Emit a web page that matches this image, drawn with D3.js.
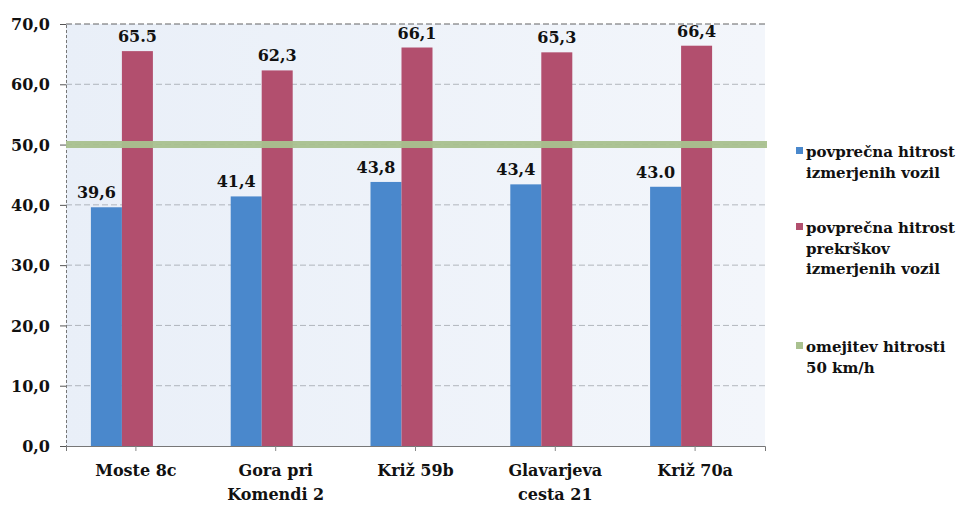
<!DOCTYPE html>
<html><head><meta charset="utf-8">
<script src="https://cdn.jsdelivr.net/npm/d3@7"></script>
<style>body{margin:0;background:#fff}svg{display:block}</style>
</head><body><div id="chart"></div>
<script>
const categories = [["Moste 8c"], ["Gora pri", "Komendi 2"], ["Križ 59b"], ["Glavarjeva", "cesta 21"], ["Križ 70a"]];
const seriesNames = ["povprečna hitrost izmerjenih vozil", "povprečna hitrost prekrškov izmerjenih vozil"];
const avgSpeed = [39.6, 41.4, 43.8, 43.4, 43.0];
const avgViolation = [65.5, 62.3, 66.1, 65.3, 66.4];
const avgSpeedLabels = ["39,6", "41,4", "43,8", "43,4", "43.0"];
const avgViolationLabels = ["65.5", "62,3", "66,1", "65,3", "66,4"];
const speedLimit = 50;
const yTicks = [0, 10, 20, 30, 40, 50, 60, 70];
const legendEntries = [["povprečna hitrost", "izmerjenih vozil"], ["povprečna hitrost", "prekrškov", "izmerjenih vozil"], ["omejitev hitrosti", "50 km/h"]];
const colors = ["#4a88cc", "#b24f6e", "#a9c18f"];

const FONT = "'DejaVu Serif', serif";
const W = 967, H = 506;
const mLeft = 66, mRight = 765, mTop = 24, mBottom = 446;
const svg = d3.select("#chart").append("svg").attr("width", W).attr("height", H)
  .style("font-family", FONT).style("font-weight", "bold");

const defs = svg.append("defs");
const g = defs.append("linearGradient").attr("id", "bg").attr("x1", 0).attr("x2", 1).attr("y1", 0).attr("y2", 0);
g.append("stop").attr("offset", "0%").attr("stop-color", "#e9eff8");
g.append("stop").attr("offset", "100%").attr("stop-color", "#f3f6fb");

svg.append("rect").attr("x", mLeft).attr("y", mTop).attr("width", mRight - mLeft).attr("height", mBottom - mTop).attr("fill", "url(#bg)");

const x = d3.scaleBand().domain(d3.range(categories.length)).range([mLeft, mRight]).padding(0);
const y = d3.scaleLinear().domain([0, 70]).range([mBottom, mTop]);
const barW = 31, shift = -14;
const x1 = d3.scaleBand().domain([0, 1]).range([x.bandwidth() / 2 + shift - barW, x.bandwidth() / 2 + shift + barW]);

// gridlines
svg.append("g").selectAll("line").data(yTicks.filter(d => d > 0)).join("line")
  .attr("x1", mLeft).attr("x2", mRight).attr("y1", d => y(d)).attr("y2", d => y(d))
  .attr("stroke", d => d === 70 ? "#555" : "#8a8f96").attr("stroke-width", d => d === 70 ? 1.2 : 1)
  .attr("stroke-dasharray", "6,3").attr("opacity", d => d === 70 ? 0.9 : 0.6);

function styleText(sel, size) {
  sel.style("font-family", FONT).style("font-weight", "bold").style("font-size", size + "px").attr("fill", "#111");
}

// y axis
const yAxis = d3.axisLeft(y).tickValues(yTicks).tickSize(6).tickFormat(d => d3.format(".1f")(d).replace(".", ","));
const ya = svg.append("g").attr("transform", `translate(${mLeft},0)`).call(yAxis).attr("font-family", null).attr("font-size", null);
ya.select(".domain").attr("stroke", "#777").attr("stroke-dasharray", "3,2");
ya.selectAll(".tick line").attr("stroke", "#555");
ya.selectAll(".tick text").attr("x", -16).attr("dy", "0.35em").call(styleText, 16);

// x axis
const xa = svg.append("g").attr("transform", `translate(0,${mBottom})`).call(d3.axisBottom(x).tickSize(5).tickFormat("")).attr("font-family", null).attr("font-size", null);
xa.select(".domain").attr("stroke", "#777");
xa.selectAll(".tick line").attr("stroke", "#888");
xa.selectAll(".tick").each(function(d) {
  const t = d3.select(this).append("text").attr("text-anchor", "middle").call(styleText, 16);
  categories[d].forEach((line, i) => t.append("tspan").attr("x", 0).attr("y", 30 + i * 24).text(line));
});

// bars
const data = categories.map((c, i) => [{s: 0, v: avgSpeed[i], l: avgSpeedLabels[i]}, {s: 1, v: avgViolation[i], l: avgViolationLabels[i]}]);
const groups = svg.append("g").selectAll("g").data(data).join("g").attr("transform", (d, i) => `translate(${x(i)},0)`);
groups.selectAll("rect").data(d => d).join("rect")
  .attr("x", d => x1(d.s)).attr("width", x1.bandwidth())
  .attr("y", d => y(d.v)).attr("height", d => y(0) - y(d.v)).attr("fill", d => colors[d.s]);

// speed limit line
svg.append("line").attr("x1", mLeft).attr("x2", mRight + 2).attr("y1", y(speedLimit)).attr("y2", y(speedLimit))
  .attr("stroke", colors[2]).attr("stroke-width", 7).attr("opacity", 0.95);

// data labels
groups.selectAll("text.lab").data(d => d).join("text").attr("class", "lab")
  .attr("x", d => x1(d.s) + x1.bandwidth() / 2 - (d.s === 0 ? 10 : 0)).attr("y", d => y(d.v) - 9)
  .attr("text-anchor", "middle").call(styleText, 16).text(d => d.l);

// legend
const legY = [157, 233, 352];
legendEntries.forEach((lines, i) => {
  svg.append("rect").attr("x", 796).attr("y", legY[i] - 10).attr("width", 7).attr("height", 7).attr("fill", colors[i]);
  const t = svg.append("text").call(styleText, 15);
  lines.forEach((ln, j) => t.append("tspan").attr("x", 806).attr("y", legY[i] + j * 20.5).text(ln));
});
</script></body></html>
